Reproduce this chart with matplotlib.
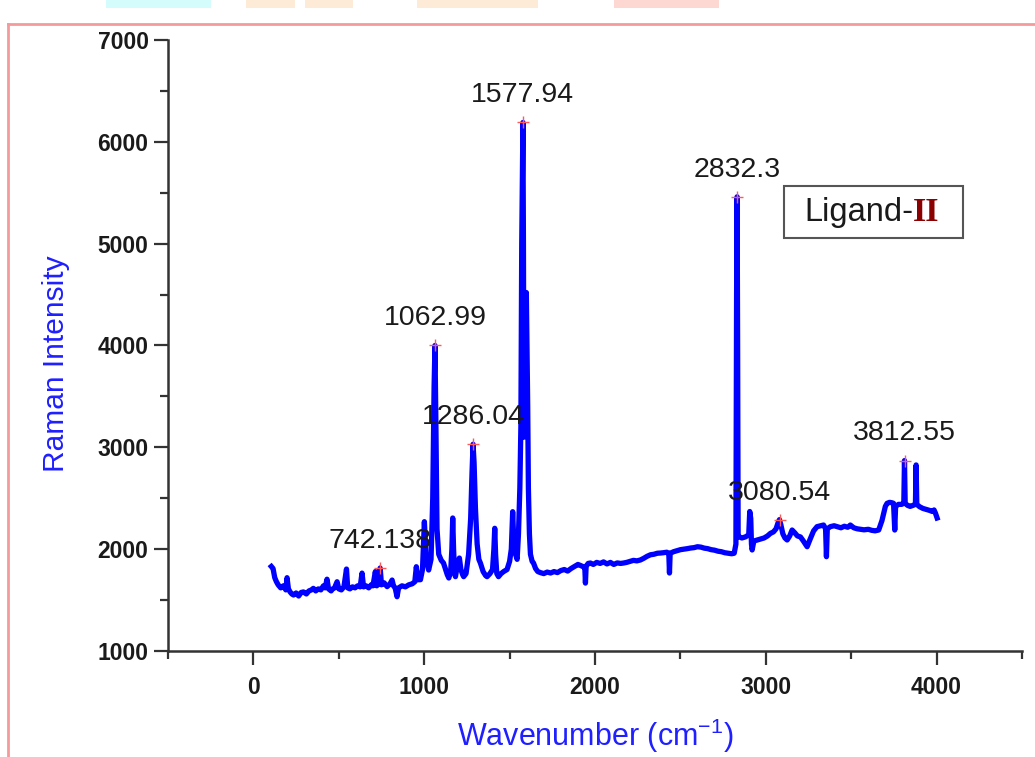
import matplotlib
matplotlib.use("Agg")
import matplotlib.pyplot as plt
from matplotlib.patches import Rectangle
from matplotlib.lines import Line2D
from matplotlib.offsetbox import TextArea, HPacker, AnchoredOffsetbox, DrawingArea
from matplotlib.ticker import MultipleLocator

plt.rcParams["mathtext.fontset"] = "custom"
plt.rcParams["mathtext.rm"] = "Liberation Sans"
plt.rcParams["mathtext.it"] = "Liberation Sans"
plt.rcParams["mathtext.bf"] = "Liberation Sans:bold"

# ---------------- data ----------------
wavenumber = [
    105, 115, 125, 135, 145, 160, 175, 190, 197, 205, 215, 225, 235, 250, 265, 280, 293,
    310, 325, 340, 351, 365, 380, 395, 410, 420, 431, 440, 455, 461, 475, 490, 500, 515,
    530, 545, 552, 565, 580, 595, 610, 625, 636, 645, 660, 675, 690, 700, 714, 722, 735,
    742, 750, 765, 783, 800, 812, 820, 830, 841, 850, 870, 890, 910, 930, 945, 954, 962,
    978, 990, 1001, 1012, 1026, 1040, 1050, 1058, 1063, 1068, 1075, 1085, 1100, 1113,
    1125, 1135, 1144, 1155, 1162, 1167, 1172, 1178, 1183, 1195, 1206, 1215, 1225, 1231,
    1245, 1260, 1272, 1280, 1286, 1292, 1300, 1310, 1320, 1329, 1345, 1360, 1368, 1385,
    1400, 1408, 1413, 1418, 1425, 1435, 1450, 1465, 1485, 1500, 1510, 1518, 1526, 1535,
    1544, 1552, 1560, 1566, 1571, 1574, 1578, 1581, 1584, 1588, 1593, 1598, 1602, 1606,
    1610, 1616, 1622, 1632, 1640, 1652, 1665, 1680, 1700, 1720, 1740, 1760, 1780, 1800,
    1820, 1840, 1860, 1880, 1900, 1915, 1933, 1940, 1944, 1948, 1960, 1973, 1990, 2010,
    2030, 2050, 2070, 2090, 2110, 2130, 2150, 2167, 2185, 2205, 2225, 2245, 2266, 2285,
    2305, 2325, 2345, 2365, 2383, 2400, 2420, 2432, 2436, 2440, 2460, 2480, 2500, 2520,
    2540, 2559, 2580, 2600, 2620, 2640, 2660, 2680, 2700, 2720, 2740, 2760, 2780, 2800,
    2815, 2825, 2829, 2832, 2835, 2838, 2842, 2860, 2880, 2900, 2906, 2912, 2916, 2920,
    2930, 2949, 2970, 2990, 3010, 3027, 3045, 3060, 3072, 3080, 3088, 3100, 3112, 3125,
    3140, 3154, 3170, 3185, 3203, 3220, 3242, 3260, 3280, 3300, 3320, 3338, 3350, 3355,
    3360, 3378, 3400, 3420, 3440, 3460, 3480, 3495, 3515, 3535, 3554, 3575, 3600, 3620,
    3640, 3661, 3680, 3700, 3710, 3725, 3740, 3748, 3752, 3755, 3760, 3777, 3795, 3808,
    3812, 3816, 3830, 3845, 3862, 3876, 3880, 3884, 3900, 3920, 3940, 3960, 3975, 3985,
    3993, 4003,
]
intensity = [
    1830, 1810, 1720, 1680, 1650, 1620, 1640, 1600, 1720, 1610, 1580, 1560, 1550, 1570, 1540, 1575, 1580,
    1560, 1590, 1600, 1615, 1590, 1610, 1600, 1640, 1620, 1705, 1610, 1590, 1606, 1620, 1680, 1610, 1600,
    1630, 1805, 1620, 1610, 1630, 1620, 1640, 1630, 1765, 1630, 1640, 1620, 1650, 1640, 1780, 1640, 1660,
    1815, 1650, 1670, 1632, 1660, 1697, 1640, 1620, 1533, 1620, 1640, 1630, 1650, 1660, 1680, 1828, 1700,
    1700, 1800, 2270, 1900, 1795, 1900, 2500, 3600, 4000, 3300, 2200, 1950, 1890, 1864,
    1800, 1750, 1717, 1780, 2000, 2306, 2000, 1760, 1730, 1850, 1913, 1800, 1750, 1730,
    1760, 1950, 2300, 2750, 3030, 2850, 2400, 2050, 1900, 1864, 1780, 1740, 1730, 1760,
    1800, 2000, 2205, 1950, 1760, 1730, 1760, 1780, 1800, 1880, 2000, 2368, 2000, 1950,
    1900, 2150, 2600, 3200, 5000, 5550, 6190, 5000, 3100, 3600, 4300, 4520, 4000, 3400,
    2600, 2150, 1950, 1880, 1864, 1810, 1780, 1770, 1760, 1775, 1766, 1780, 1770, 1790,
    1800, 1785, 1810, 1830, 1850, 1840, 1826, 1830, 1667, 1830, 1860, 1864, 1850, 1870,
    1860, 1875, 1855, 1870, 1850, 1865, 1860, 1864, 1870, 1880, 1890, 1885, 1894, 1910,
    1930, 1945, 1950, 1960, 1962, 1965, 1970, 1960, 1766, 1960, 1975, 1985, 1995, 2000,
    2005, 2011, 2015, 2024, 2020, 2010, 2005, 1995, 1990, 1980, 1975, 1965, 1960, 1955,
    1960, 2050, 4500, 5460, 4000, 2150, 2122, 2110, 2120, 2140, 2370, 2300, 2050, 1992,
    2080, 2090, 2100, 2110, 2130, 2155, 2170, 2200, 2260, 2290, 2240, 2150, 2110, 2090,
    2130, 2188, 2160, 2130, 2120, 2080, 2024, 2100, 2180, 2221, 2230, 2237, 2200, 1926,
    2200, 2221, 2230, 2220, 2210, 2225, 2215, 2237, 2210, 2200, 2195, 2190, 2195, 2185,
    2180, 2188, 2280, 2420, 2450, 2460, 2455, 2450, 2300, 2188, 2420, 2440, 2440, 2450,
    2870, 2450, 2430, 2420, 2430, 2440, 2827, 2440, 2417, 2400, 2390, 2380, 2370, 2385,
    2355, 2306,
]

peak_positions = [742.138, 1062.99, 1286.04, 1577.94, 2832.3, 3080.54, 3812.55]
peak_heights = [1815, 4000, 3030, 6190, 5460, 2290, 2870]
peak_labels = ["742.138", "1062.99", "1286.04", "1577.94", "2832.3", "3080.54", "3812.55"]

x_ticks = [0, 1000, 2000, 3000, 4000]
y_ticks = [1000, 2000, 3000, 4000, 5000, 6000, 7000]

# ---------------- figure ----------------
W, H = 1035, 757
fig = plt.figure(figsize=(W / 100, H / 100), dpi=100)
fig.patch.set_facecolor("white")

# screenshot decorations: pink frame and coloured tabs at the top
def px_rect(x0, y0, x1, y1, color):
    fig.patches.append(Rectangle((x0 / W, 1 - y1 / H), (x1 - x0) / W, (y1 - y0) / H,
                                 transform=fig.transFigure, facecolor=color,
                                 edgecolor="none", zorder=0))

px_rect(106, 0, 211, 8, "#d4fcfc")
px_rect(246, 0, 295, 8, "#fdebd8")
px_rect(305, 0, 353, 8, "#fdebd8")
px_rect(417, 0, 538, 8, "#fdebd8")
px_rect(614, 0, 719, 8, "#fdd8d2")
fig.lines.append(Line2D([8 / W, 1.0], [1 - 24 / H, 1 - 24 / H], transform=fig.transFigure,
                        color="#f59a9a", lw=2.0))
fig.lines.append(Line2D([8 / W, 8 / W], [0.0, 1 - 24 / H], transform=fig.transFigure,
                        color="#f59a9a", lw=2.0))

ax = fig.add_axes([168 / W, 1 - 651 / H, (1022 - 168) / W, (651 - 40) / H])
ax.set_xlim(-500, 4500)
ax.set_ylim(1000, 7000)

ax.plot(wavenumber, intensity, color="#0000ff", lw=3.8, solid_joinstyle="round", zorder=3)
ax.plot(peak_positions, peak_heights, linestyle="none", marker="+", ms=9, mew=1.0,
        color="#ff5a5a", zorder=4)
for px_, py_, lab in zip(peak_positions, peak_heights, peak_labels):
    ax.annotate(lab, (px_, py_), xytext=(0, 19.5), textcoords="offset points",
                ha="center", va="center", fontsize=20.5, color="#1a1a1a",
                family="Liberation Sans", zorder=5)

# spines and ticks
for s in ("top", "right"):
    ax.spines[s].set_visible(False)
for s in ("left", "bottom"):
    ax.spines[s].set_linewidth(1.8)
    ax.spines[s].set_color("#333333")

ax.set_xticks(x_ticks)
ax.set_yticks(y_ticks)
ax.xaxis.set_minor_locator(MultipleLocator(500))
ax.yaxis.set_minor_locator(MultipleLocator(500))
ax.tick_params(which="major", direction="out", length=10, width=1.6, color="#333333",
               labelsize=16.5, labelcolor="#1a1a1a", pad=4)
ax.tick_params(which="minor", direction="out", length=6, width=1.6, color="#333333")
ax.tick_params(axis="x", which="major", pad=8)
for lab in ax.get_xticklabels() + ax.get_yticklabels():
    lab.set_fontweight("bold")
    lab.set_family("Liberation Sans")

ax.set_ylabel("Raman Intensity", fontsize=21.5, color="#1f1fff", family="Liberation Sans")
ax.yaxis.set_label_coords(-0.115, 0.47)
ax.set_xlabel("Wavenumber (cm$^{-1}$)", fontsize=22, color="#1f1fff", family="Liberation Sans")
ax.xaxis.set_label_coords(0.5, -0.108)

# legend-like box
t1 = TextArea("Ligand-", textprops=dict(fontsize=23.5, color="#1a1a1a", family="Liberation Sans"))
t2 = TextArea("II", textprops=dict(fontsize=24.5, color="#8b0000", family="Liberation Serif",
                                   fontweight="bold"))
spacer_l = DrawingArea(7, 1)
spacer_r = DrawingArea(9, 1)
box = HPacker(children=[spacer_l, t1, t2, spacer_r], align="baseline", pad=0, sep=0)
anc = AnchoredOffsetbox(loc="center", child=box, pad=0.75, borderpad=0, frameon=True,
                        bbox_to_anchor=(0.826, 0.718), bbox_transform=ax.transAxes)
anc.patch.set_edgecolor("#555555")
anc.patch.set_linewidth(1.5)
ax.add_artist(anc)

fig.savefig("out.png", dpi=100)
